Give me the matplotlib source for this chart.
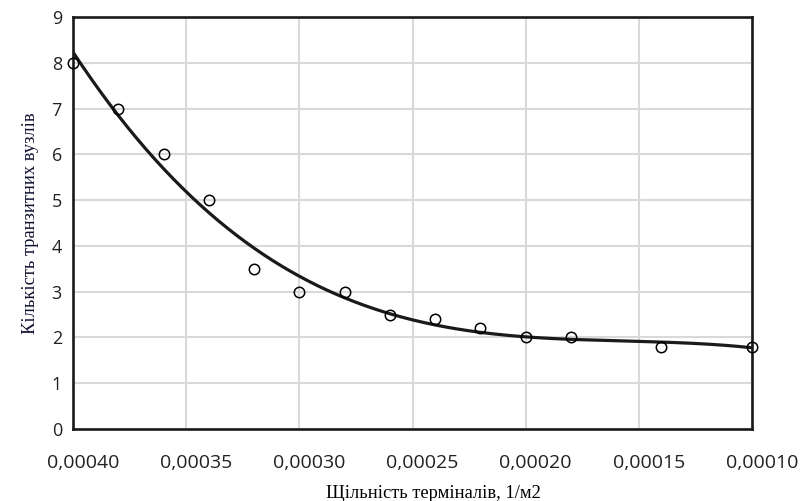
import numpy as np
import matplotlib.pyplot as plt
import matplotlib.transforms as mtransforms
from matplotlib.ticker import MultipleLocator, FuncFormatter

# Щільність терміналів (1/м2) та кількість транзитних вузлів
density = [0.00040, 0.00038, 0.00036, 0.00034, 0.00032, 0.00030, 0.00028,
           0.00026, 0.00024, 0.00022, 0.00020, 0.00018, 0.00014, 0.00010]
nodes = [8.0, 7.0, 6.0, 5.0, 3.5, 3.0, 3.0, 2.5, 2.4, 2.2, 2.0, 2.0, 1.8, 1.8]

x_ticks = [0.00040, 0.00035, 0.00030, 0.00025, 0.00020, 0.00015, 0.00010]

# Поліноміальна лінія тренду (3-й ступінь) по точках
xs = np.array(density) * 1e4
coef = np.polyfit(xs, nodes, 3)
x_line = np.linspace(1.0, 4.0, 300)
y_line = np.polyval(coef, x_line)

fig = plt.figure(figsize=(8, 5.01), dpi=100)
ax = fig.add_axes([0.0913, 0.1437, 0.8487, 0.8223])

ax.plot(x_line / 1e4, y_line, color='#1a1a1a', linewidth=2.3, zorder=3)
ax.plot(density, nodes, linestyle='none', marker='o', markersize=7.5,
        markerfacecolor='none', markeredgecolor='black', markeredgewidth=1.1,
        zorder=4, clip_on=False)

ax.set_xlim(0.00040, 0.00010)
ax.set_ylim(0, 9)
ax.set_xticks(x_ticks)
ax.xaxis.set_major_formatter(FuncFormatter(lambda v, p: f'{v:.5f}'.replace('.', ',')))
ax.yaxis.set_major_locator(MultipleLocator(1))

ax.grid(True, color='#d9d9d9', linewidth=1.5)
ax.set_axisbelow(True)
for s in ax.spines.values():
    s.set_color('#1a1a1a')
    s.set_linewidth(1.9)

ax.tick_params(axis='x', length=0, labelsize=14, colors='#222222', pad=18)
ax.tick_params(axis='y', length=0, labelsize=13, colors='#222222', pad=8)
# підписи по осі X трохи зсунуті праворуч
shift = mtransforms.ScaledTranslation(10 / 100, 0, fig.dpi_scale_trans)
for lbl in ax.get_xticklabels():
    lbl.set_family('Open Sans')
    lbl.set_transform(lbl.get_transform() + shift)
for lbl in ax.get_yticklabels():
    lbl.set_family('Open Sans')

ax.set_xlabel('Щільність терміналів, 1/м2', family='Liberation Serif', fontsize=13.3,
              color='black', labelpad=7)
ax.xaxis.set_label_coords(0.53, -0.135)
ax.set_ylabel('Кількість транзитних вузлів', family='Liberation Serif', fontsize=13.3,
              color='#101030', labelpad=9)

fig.savefig('out.png', dpi=100)
